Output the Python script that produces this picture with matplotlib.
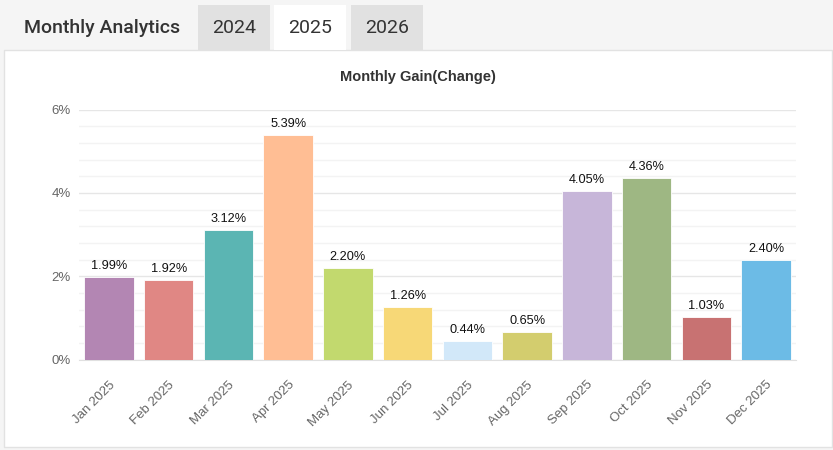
import matplotlib
matplotlib.use("Agg")
import matplotlib.pyplot as plt
from matplotlib.patches import Rectangle
from matplotlib.ticker import MultipleLocator, FuncFormatter

months = ["Jan 2025", "Feb 2025", "Mar 2025", "Apr 2025", "May 2025", "Jun 2025",
          "Jul 2025", "Aug 2025", "Sep 2025", "Oct 2025", "Nov 2025", "Dec 2025"]
gains = [1.99, 1.92, 3.12, 5.39, 2.20, 1.26, 0.44, 0.65, 4.05, 4.36, 1.03, 2.40]
colors = ["#b386b3", "#e08784", "#5bb5b3", "#ffbe94", "#c2d96e", "#f7d877",
          "#d2e8f9", "#d3cd6e", "#c7b6d9", "#9eb783", "#c87272", "#6cbbe6"]
tabs = ["2024", "2025", "2026"]

W, H = 833, 450
fig = plt.figure(figsize=(W / 100, H / 100), dpi=100, facecolor="#f5f5f5")


def box(x0, y0, x1, y1, **kw):
    # pixel coords from top-left
    r = Rectangle((x0 / W, 1 - y1 / H), (x1 - x0) / W, (y1 - y0) / H,
                  transform=fig.transFigure, zorder=-5, **kw)
    fig.add_artist(r)


# white panel
box(4, 50, 832, 447, facecolor="white", edgecolor="#e2e2e2", linewidth=1)

# header + tabs
fig.text(24 / W, 1 - 28 / H, "Monthly Analytics", family="Roboto", fontsize=14,
         color="#333333", va="center", ha="left", fontweight="medium")
tab_x = [198, 274, 351]
for t, x0 in zip(tabs, tab_x):
    fc = "white" if t == "2025" else "#e1e1e1"
    box(x0, 5, x0 + 72, 50, facecolor=fc, edgecolor="none")
    fig.text((x0 + 36) / W, 1 - 28 / H, t, family="Roboto", fontsize=14,
             color="#333333", va="center", ha="center")

fig.text(418 / W, 1 - 77 / H, "Monthly Gain(Change)", family="Liberation Sans",
         fontsize=10.5, fontweight="bold", color="#333333", ha="center", va="center")

ax = fig.add_axes([79 / W, 1 - 359.5 / H, (796 - 79) / W, 250 / H])
ax.set_facecolor("white")
x = list(range(len(months)))
ax.bar(x, gains, width=0.83, color=colors, edgecolor="white", linewidth=0.6, zorder=3)
for xi, g in zip(x, gains):
    ax.text(xi, g + 0.12, f"{g:.2f}%", ha="center", va="bottom",
            family="Liberation Sans", fontsize=9.2, color="#111111", zorder=4)

ax.set_xlim(-0.5, 11.5)
ax.set_ylim(0, 6)
ax.yaxis.set_major_locator(MultipleLocator(2))
ax.yaxis.set_minor_locator(MultipleLocator(0.4))
ax.yaxis.set_major_formatter(FuncFormatter(lambda v, p: f"{v:.0f}%"))
ax.grid(axis="y", which="major", color="#e6e6e6", linewidth=1, zorder=0)
ax.grid(axis="y", which="minor", color="#f3f3f3", linewidth=1, zorder=0)
for s in ["top", "right", "left"]:
    ax.spines[s].set_visible(False)
ax.spines["bottom"].set_color("#e0e0e0")
ax.tick_params(axis="y", which="both", length=0, pad=6, labelsize=9.5, labelcolor="#666666")
ax.tick_params(axis="x", length=0, pad=14, labelsize=9.5, labelcolor="#666666")
ax.set_xticks(x)
ax.set_xticklabels(months, rotation=45, ha="right", rotation_mode="anchor",
                   family="Liberation Sans")
for lab in ax.get_yticklabels():
    lab.set_family("Liberation Sans")

fig.savefig("out.png", dpi=100, facecolor=fig.get_facecolor())
